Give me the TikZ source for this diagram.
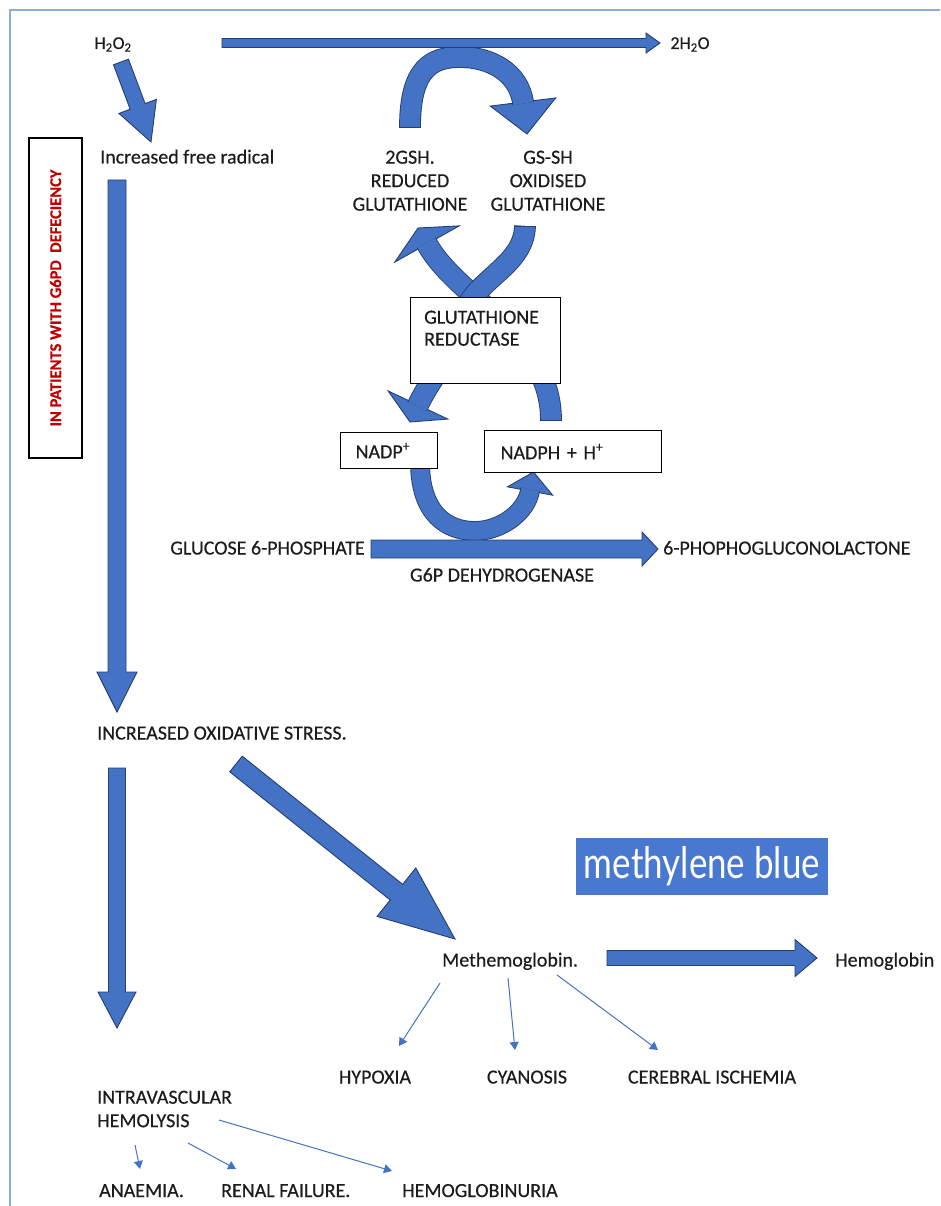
\documentclass[tikz,border=0pt]{standalone}
\usepackage{graphicx}
\usepackage{fontspec}
\setmainfont{Carlito}[FakeBold=0.4]
\newfontfamily\mbfont{Lato}
\usetikzlibrary{calc,arrows.meta}
\definecolor{afill}{RGB}{68,114,196}
\definecolor{aline}{RGB}{38,62,115}
\definecolor{framec}{RGB}{143,170,220}
\definecolor{mbfill}{RGB}{72,120,208}
\definecolor{txt}{RGB}{28,28,28}
\definecolor{redt}{RGB}{192,0,0}
% straight block arrow: from, to, shaft half width, head half width, head length
\newcommand\blockarrow[5]{%
  \path ($(#2)!#5!(#1)$) coordinate (bneck);
  \filldraw[barrow] ($(#1)!#3!90:(#2)$) -- ($(bneck)!#3!90:(#2)$) -- ($(bneck)!#4!90:(#2)$) -- (#2) -- ($(bneck)!#4!-90:(#2)$) -- ($(bneck)!#3!-90:(#2)$) -- ($(#1)!#3!-90:(#2)$) -- cycle;}
% arrow head: neck, tip, half width
\newcommand\headat[3]{%
  \filldraw[barrow] ($(#1)!#3!90:(#2)$) -- (#2) -- ($(#1)!#3!-90:(#2)$) -- cycle;}
\tikzset{
  lbl/.style={inner sep=0pt, text=txt, font=\fontsize{20}{23.5}\selectfont},
  sm/.style={inner sep=0pt, text=txt, font=\fontsize{18}{21}\selectfont},
  tbox/.style={draw=black, line width=1.2pt, fill=white, rectangle, text=txt, font=\fontsize{20}{23.5}\selectfont},
  barrow/.style={fill=afill, draw=aline, line width=0.9pt, line join=miter},
  cshaft/.style={draw=aline, line width=0.9pt, double=afill},
  tailcap/.style={draw=aline, line width=0.9pt},
  thinarr/.style={draw=afill, line width=1pt, -{Triangle[width=9pt,length=8pt]}},
}
\begin{document}
\begin{tikzpicture}[x=1pt,y=-1pt]
\useasboundingbox (0,0) rectangle (940,1206);
\draw[framec, line width=2pt] (10,1206) -- (10,10) -- (940,10);

% ---- top cycle: arch 2GSH -> GS-SH
\coordinate (aS) at (410,127);
\coordinate (aN) at (523,102);
\coordinate (aT) at (527,134);
\headat{aN}{aT}{33pt}
\draw[cshaft, double distance=20pt] (aS) .. controls (410,68) and (432,57) .. (460,57) .. controls (490,57) and (519,72) .. ($(aN)!1.5pt!(aT)$);
\draw[tailcap] ($(aS)+(-10.9,0)$) -- ($(aS)+(10.9,0)$);

% H2O2 -> 2H2O
\coordinate (topS) at (222,43);
\coordinate (topT) at (660,43);
\blockarrow{topS}{topT}{4.5pt}{10pt}{14pt}

% H2O2 -> increased free radical
\coordinate (s1S) at (121,62);
\coordinate (s1T) at (151,142);
\blockarrow{s1S}{s1T}{8pt}{20pt}{38pt}

% increased free radical -> increased oxidative stress
\coordinate (v1S) at (117,180);
\coordinate (v1T) at (117,712);
\blockarrow{v1S}{v1T}{9pt}{20pt}{40pt}

% crossing arrows behind glutathione reductase
\coordinate (bS) at (551,420);
\coordinate (bN) at (427,244);
\coordinate (bT) at (418,228);
\headat{bN}{bT}{37pt}
\draw[cshaft, double distance=20pt] (bS) .. controls (551,335) and (455,297) .. ($(bN)!1.5pt!(bT)$);
\draw[tailcap] ($(bS)+(-10.9,0)$) -- ($(bS)+(10.9,0)$);

\coordinate (cS) at (525,226);
\coordinate (cN) at (418,405);
\coordinate (cT) at (410,422);
\headat{cN}{cT}{33pt}
\draw[cshaft, double distance=20pt] (cS) .. controls (524,268) and (470,280) .. (462,320) .. controls (455,355) and (433,373) .. ($(cN)!1.5pt!(cT)$);
\draw[tailcap] ($(cS)+(-10.9,0)$) -- ($(cS)+(10.9,0)$);

\node[tbox, anchor=north west, minimum width=150pt, minimum height=86pt, inner sep=0pt] (gr) at (410,297) {};
\node[lbl, anchor=north west, align=left, font=\fontsize{20}{22}\selectfont] (grt) at (424,310.5) {GLUTATHIONE\\REDUCTASE};

% NADP+ -> NADPH loop
\coordinate (dS) at (420,462);
\coordinate (dN) at (530,491);
\coordinate (dT) at (533.5,472);
\headat{dN}{dT}{23pt}
\draw[cshaft, double distance=18pt] (dS) .. controls (420,515) and (448,531) .. (475,531) .. controls (500,531) and (526.5,513) .. ($(dN)!1.5pt!(dT)$);

\node[tbox, anchor=north west, minimum height=36pt, text width=67pt, inner xsep=15pt, inner ysep=0pt, align=left] (nadp) at (340,432) {NADP\textsuperscript{+}};
\node[tbox, anchor=north west, minimum height=42pt, text width=145pt, inner xsep=16pt, inner ysep=0pt, align=left] (nadph) at (484,430) {NADPH + H\textsuperscript{+}};

% G6P -> 6-phosphogluconolactone
\coordinate (gS) at (371,549);
\coordinate (gT) at (658,549);
\blockarrow{gS}{gT}{9pt}{17pt}{16pt}

% oxidative stress -> hemolysis
\coordinate (v2S) at (117,768);
\coordinate (v2T) at (117,1028);
\blockarrow{v2S}{v2T}{8.5pt}{19pt}{36pt}

% oxidative stress -> methemoglobin
\coordinate (dgS) at (236,764);
\coordinate (dgT) at (455,939);
\blockarrow{dgS}{dgT}{10pt}{31pt}{75pt}

% methemoglobin -> hemoglobin
\coordinate (hbS) at (607,958);
\coordinate (hbT) at (817,958);
\blockarrow{hbS}{hbT}{7.5pt}{18.5pt}{22pt}

\node[fill=mbfill, minimum width=252pt, minimum height=57pt, inner sep=0pt, text=white] (mb) at (702,866.5) {\resizebox{236pt}{32pt}{\mbfont methylene blue}};

% left box
\node[draw=black, line width=1.2pt, rotate=90, minimum width=320pt, minimum height=53pt, inner sep=0pt, text=redt, font=\bfseries\fontsize{16.5}{18}\selectfont] (g6pdbox) at (55.5,298) {IN PATIENTS WITH G6PD\ \ DEFECIENCY};

% texts
\node[sm, anchor=base] (h2o2) at (113,49) {H\textsubscript{2}O\textsubscript{2}};
\node[sm, anchor=base] (water) at (690,49) {2H\textsubscript{2}O};
\node[lbl, anchor=base west] (ifr) at (100,163.5) {Increased free radical};
\node[lbl, anchor=north, align=center] (gsh) at (410,150.5) {2GSH.\\REDUCED\\GLUTATHIONE};
\node[lbl, anchor=north, align=center] (gssg) at (548,150.5) {GS-SH\\OXIDISED\\GLUTATHIONE};
\node[lbl, anchor=base east] (g6p) at (365,554.5) {GLUCOSE 6-PHOSPHATE};
\node[lbl, anchor=base west] (pgl) at (663,554.5) {6-PHOPHOGLUCONOLACTONE};
\node[lbl, anchor=base] (g6pd) at (502,581.5) {G6P DEHYDROGENASE};
\node[lbl, anchor=base west] (ios) at (97,739.5) {INCREASED OXIDATIVE STRESS.};
\node[lbl, anchor=base west] (methb) at (442,966.5) {Methemoglobin.};
\node[lbl, anchor=base west] (hb) at (835,966.5) {Hemoglobin};
\node[lbl, anchor=base] (hyp) at (375,1083.5) {HYPOXIA};
\node[lbl, anchor=base] (cya) at (527,1083.5) {CYANOSIS};
\node[lbl, anchor=base] (cer) at (712,1083.5) {CEREBRAL ISCHEMIA};
\node[lbl, anchor=north west, align=left] (ivh) at (97,1090.5) {INTRAVASCULAR\\HEMOLYSIS};
\node[lbl, anchor=base west] (ana) at (99,1197) {ANAEMIA.};
\node[lbl, anchor=base west] (ren) at (221,1197) {RENAL FAILURE.};
\node[lbl, anchor=base west] (hgu) at (402,1197) {HEMOGLOBINURIA};

% thin arrows
\coordinate (m1) at (440,983);  \coordinate (m1t) at (399,1046);
\coordinate (m2) at (508,978);  \coordinate (m2t) at (515,1050);
\coordinate (m3) at (557,975);  \coordinate (m3t) at (658,1050);
\coordinate (h1) at (135,1145); \coordinate (h1t) at (140,1169);
\coordinate (h2) at (188,1143); \coordinate (h2t) at (236,1169);
\coordinate (h3) at (219,1120); \coordinate (h3t) at (392,1171);
\draw[thinarr] (m1) -- (m1t);
\draw[thinarr] (m2) -- (m2t);
\draw[thinarr] (m3) -- (m3t);
\draw[thinarr] (h1) -- (h1t);
\draw[thinarr] (h2) -- (h2t);
\draw[thinarr] (h3) -- (h3t);
\end{tikzpicture}
\end{document}
